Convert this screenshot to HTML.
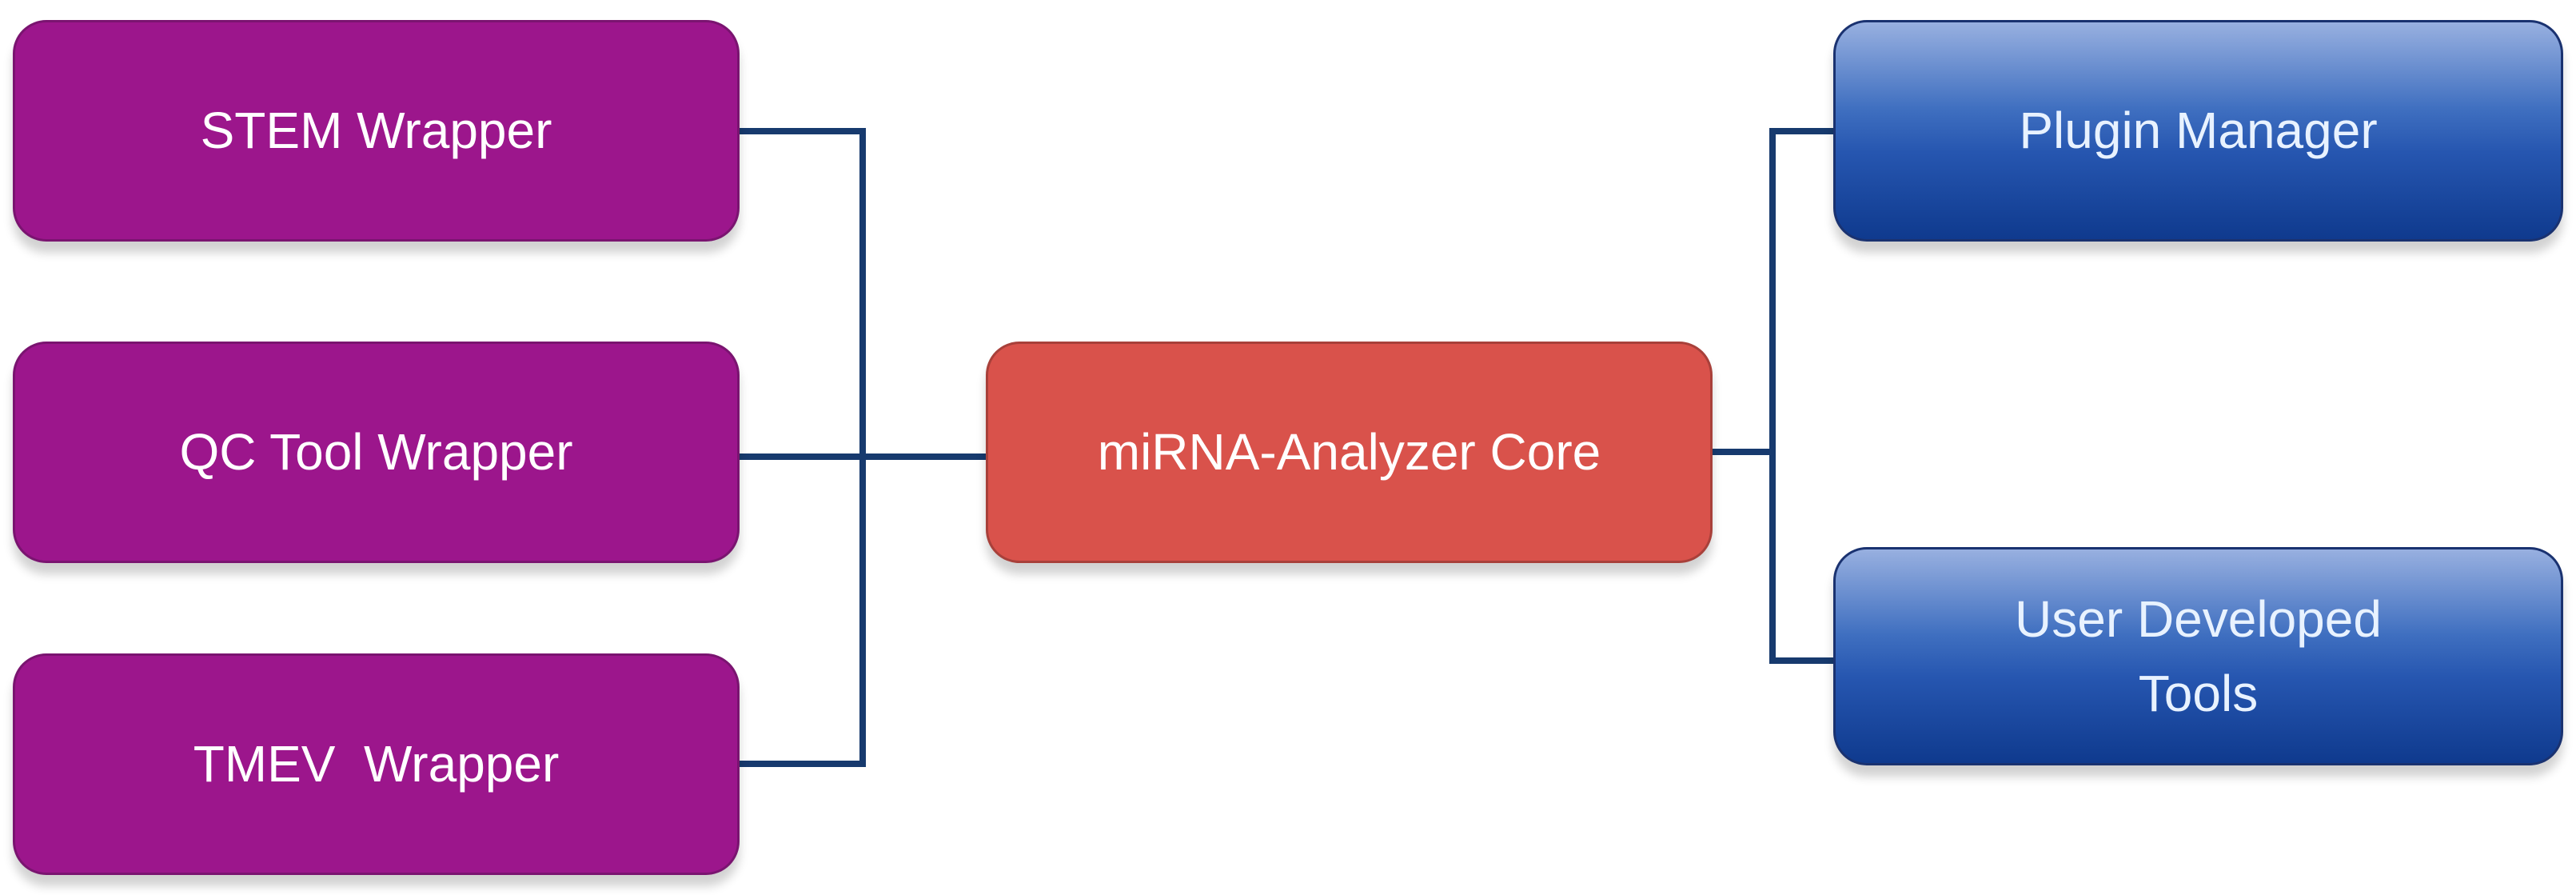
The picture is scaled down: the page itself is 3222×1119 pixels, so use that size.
<!DOCTYPE html>
<html><head><style>
body{margin:0;width:3222px;height:1119px;background:#fff;position:relative;overflow:hidden;font-family:"Liberation Sans",sans-serif}
.b{position:absolute;border-radius:42px;color:#fff;display:flex;align-items:center;justify-content:center;text-align:center;font-size:64px;line-height:1.45;box-shadow:0 14px 12px rgba(0,0,0,0.18)}
.p{background:#9c168c;border:3px solid #7a1470}
.r{background:#d9524b;border:3px solid #a8403a}
.u{background:linear-gradient(#98b0e0 0%,#3f6fc0 40%,#2656b0 60%,#0f3a8e 100%);border:3px solid #1a3270;color:#e8f2ff}
.l{position:absolute;background:#173a6e}
</style></head><body>
<div class="l" style="left:925px;top:160px;width:158px;height:8px"></div>
<div class="l" style="left:925px;top:567px;width:310px;height:8px"></div>
<div class="l" style="left:925px;top:951px;width:158px;height:8px"></div>
<div class="l" style="left:1075px;top:160px;width:8px;height:799px"></div>
<div class="l" style="left:2141px;top:561px;width:80px;height:8px"></div>
<div class="l" style="left:2213px;top:160px;width:8px;height:670px"></div>
<div class="l" style="left:2213px;top:160px;width:82px;height:8px"></div>
<div class="l" style="left:2213px;top:822px;width:82px;height:8px"></div>
<div class="b p" style="left:16px;top:25px;width:903px;height:271px">STEM Wrapper</div>
<div class="b p" style="left:16px;top:427px;width:903px;height:271px">QC Tool Wrapper</div>
<div class="b p" style="left:16px;top:817px;width:903px;height:271px">TMEV&nbsp; Wrapper</div>
<div class="b r" style="left:1233px;top:427px;width:903px;height:271px">miRNA-Analyzer Core</div>
<div class="b u" style="left:2293px;top:25px;width:907px;height:271px">Plugin Manager</div>
<div class="b u" style="left:2293px;top:684px;width:907px;height:267px">User Developed<br>Tools</div>
</body></html>
